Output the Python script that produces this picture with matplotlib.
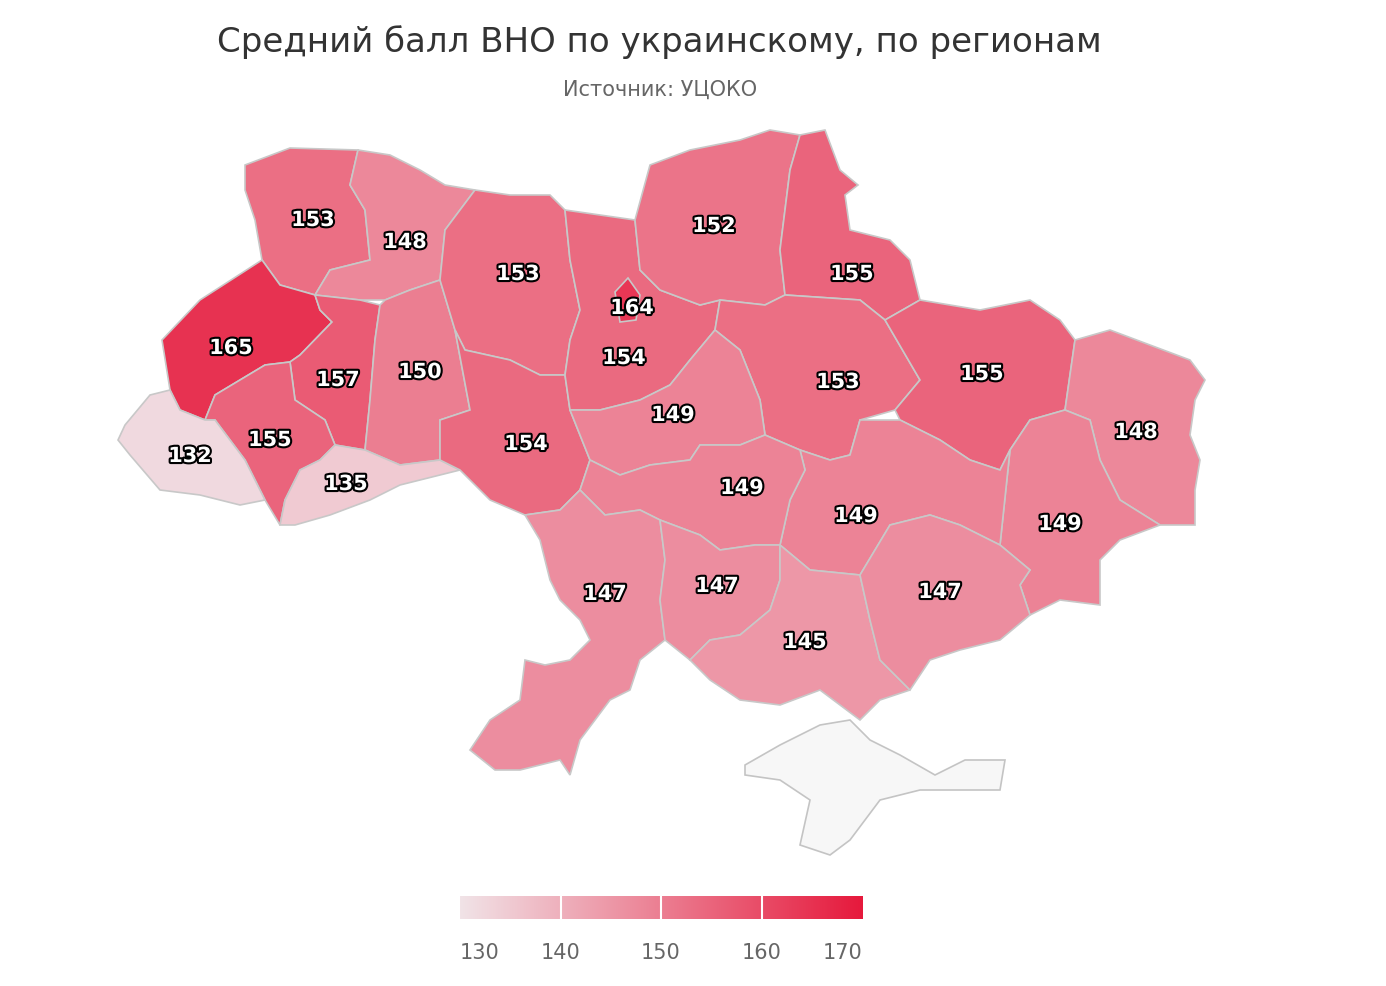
"""Average Ukrainian-language ZNO score by region (choropleth, simplified outlines)."""
import matplotlib.pyplot as plt
import matplotlib.patheffects as pe
from matplotlib.colors import LinearSegmentedColormap, Normalize
from matplotlib.patches import Polygon
import numpy as np

plt.rcParams['font.family'] = ['DejaVu Sans']

# Region names, scores and label positions (image pixel coords)
REGIONS = [
    "Волынская", "Ровенская", "Львовская", "Тернопольская", "Хмельницкая",
    "Ивано-Франковская", "Закарпатская", "Черновицкая", "Житомирская",
    "Винницкая", "Киевская", "Киев", "Черниговская", "Сумская", "Полтавская",
    "Харьковская", "Луганская", "Донецкая", "Днепропетровская", "Черкасская",
    "Кировоградская", "Одесская", "Николаевская", "Херсонская", "Запорожская",
]
SCORES = [153, 148, 165, 157, 150, 155, 132, 135, 153, 154, 154, 164, 152,
          155, 153, 155, 148, 149, 149, 149, 149, 147, 147, 145, 147]
LABEL_X = [313, 405, 231, 338, 420, 270, 190, 346, 518, 526, 624, 632, 714,
           852, 838, 982, 1136, 1060, 856, 673, 742, 605, 717, 805, 940]
LABEL_Y = [220, 242, 348, 380, 372, 440, 456, 484, 274, 444, 358, 308, 226,
           274, 382, 374, 432, 524, 516, 415, 488, 594, 586, 642, 592]

# Simplified outlines (image pixel coords)
OUTLINES = [
    [(245,165),(290,148),(358,150),(350,185),(365,210),(370,260),(330,270),(315,295),(280,285),(262,260),(255,220),(245,190)],
    [(358,150),(390,155),(420,170),(445,185),(475,190),(445,230),(440,280),(410,290),(385,300),(360,300),(315,295),(330,270),(370,260),(365,210),(350,185)],
    [(262,260),(280,285),(315,295),(320,310),(332,322),(300,355),(290,362),(265,365),(240,380),(215,395),(205,420),(180,410),(170,390),(162,340),(200,300)],
    [(315,295),(360,300),(380,305),(375,340),(370,400),(365,450),(335,445),(325,420),(295,400),(290,362),(300,355),(332,322),(320,310)],
    [(385,300),(410,290),(440,280),(455,330),(470,410),(440,420),(440,460),(400,465),(365,450),(370,400),(375,340),(380,305)],
    [(290,362),(295,400),(325,420),(335,445),(320,460),(300,470),(285,500),(280,525),(265,500),(245,460),(215,420),(205,420),(215,395),(240,380),(265,365)],
    [(205,420),(215,420),(245,460),(265,500),(240,505),(200,495),(160,490),(130,455),(118,440),(125,425),(150,395),(170,390),(180,410)],
    [(285,500),(300,470),(320,460),(335,445),(365,450),(400,465),(440,460),(460,470),(400,485),(370,500),(330,515),(295,525),(280,525)],
    [(475,190),(510,195),(550,195),(565,210),(570,260),(580,310),(570,340),(565,375),(540,375),(510,360),(465,350),(455,330),(440,280),(445,230)],
    [(465,350),(510,360),(540,375),(565,375),(570,410),(590,460),(580,490),(560,510),(525,515),(490,500),(460,470),(440,460),(440,420),(470,410),(455,330)],
    [(565,210),(600,215),(635,220),(640,270),(660,290),(700,305),(720,300),(715,330),(690,360),(670,385),(640,400),(600,410),(570,410),(565,375),(570,340),(580,310),(570,260)],
    [(615,292),(628,278),(640,295),(636,320),(620,322)],
    [(635,220),(650,165),(690,150),(740,140),(770,130),(800,135),(790,170),(785,210),(780,250),(785,295),(765,305),(720,300),(700,305),(660,290),(640,270)],
    [(800,135),(825,130),(840,170),(858,185),(845,195),(850,230),(890,240),(910,260),(920,300),(885,320),(860,300),(785,295),(780,250),(785,210),(790,170)],
    [(720,300),(765,305),(785,295),(860,300),(885,320),(920,380),(895,410),(860,420),(850,455),(830,460),(800,450),(765,435),(760,400),(740,350),(715,330)],
    [(885,320),(920,300),(980,310),(1030,300),(1060,320),(1075,340),(1065,410),(1030,420),(1010,450),(1000,470),(970,460),(940,440),(900,420),(895,410),(920,380)],
    [(1075,340),(1110,330),(1150,345),(1190,360),(1205,380),(1195,400),(1190,435),(1200,460),(1195,490),(1195,525),(1160,525),(1120,500),(1100,460),(1090,420),(1065,410)],
    [(1065,410),(1090,420),(1100,460),(1120,500),(1160,525),(1120,540),(1100,560),(1100,605),(1060,600),(1030,615),(1020,585),(1030,570),(1000,545),(1010,450),(1030,420)],
    [(800,450),(830,460),(850,455),(860,420),(900,420),(940,440),(970,460),(1000,470),(1010,450),(1000,545),(960,525),(930,515),(890,525),(860,575),(810,570),(780,545),(790,500),(805,470)],
    [(600,410),(640,400),(670,385),(690,360),(715,330),(740,350),(760,400),(765,435),(740,445),(700,445),(690,460),(650,465),(620,475),(590,460),(570,410)],
    [(590,460),(620,475),(650,465),(690,460),(700,445),(740,445),(765,435),(800,450),(805,470),(790,500),(780,545),(755,545),(720,550),(700,535),(660,520),(640,510),(605,515),(580,490)],
    [(560,510),(580,490),(605,515),(640,510),(660,520),(665,560),(660,600),(665,640),(640,660),(630,690),(610,700),(580,740),(570,775),(560,760),(520,770),(495,770),(470,750),(490,720),(520,700),(525,660),(545,665),(570,660),(590,640),(580,620),(560,600),(550,580),(540,540),(525,515)],
    [(660,520),(700,535),(720,550),(755,545),(780,545),(780,580),(770,610),(740,635),(710,640),(690,660),(665,640),(660,600),(665,560)],
    [(780,545),(810,570),(860,575),(870,620),(880,660),(910,690),(880,700),(860,720),(820,690),(780,705),(740,700),(710,680),(690,660),(710,640),(740,635),(770,610),(780,580)],
    [(860,575),(890,525),(930,515),(960,525),(1000,545),(1030,570),(1020,585),(1030,615),(1000,640),(960,650),(930,660),(910,690),(880,660),(870,620)],
]
CRIMEA = [(745,765),(780,745),(820,725),(850,720),(870,740),(900,755),(935,775),(965,760),
          (1005,760),(1000,790),(960,790),(920,790),(880,800),(850,840),(830,855),(800,845),
          (810,800),(780,780),(745,775)]

CB_TICKS = [130, 140, 150, 160, 170]

cmap = LinearSegmentedColormap.from_list("zno", ["#f1e3e7", "#e6193c"])
norm = Normalize(vmin=130, vmax=170)

fig = plt.figure(figsize=(13.86, 9.86), dpi=100)
ax = fig.add_axes([0, 0, 1, 1])
ax.set_xlim(0, 1386)
ax.set_ylim(986, 0)
ax.axis("off")

ax.add_patch(Polygon(CRIMEA, closed=True, facecolor="#f7f7f7", edgecolor="#c4c4c4", lw=1.2))
for pts, val in zip(OUTLINES, SCORES):
    ax.add_patch(Polygon(pts, closed=True, facecolor=cmap(norm(val)),
                         edgecolor="#c8c8c8", lw=1.2))

outline = [pe.withStroke(linewidth=3, foreground="black")]
for x, y, val in zip(LABEL_X, LABEL_Y, SCORES):
    ax.text(x, y, str(val), ha="center", va="center", fontsize=15, fontweight="bold",
            color="white", path_effects=outline)

fig.text(0.476, 0.957, "Средний балл ВНО по украинскому, по регионам",
         ha="center", va="center", fontsize=24.5, color="#333333")
fig.text(0.476, 0.909, "Источник: УЦОКО", ha="center", va="center",
         fontsize=15, color="#666666")

# colour axis
cax = fig.add_axes([460 / 1386, 1 - 919 / 986, 402 / 1386, 23 / 986])
grad = np.linspace(130, 170, 256).reshape(1, -1)
cax.imshow(grad, aspect="auto", cmap=cmap, norm=norm, extent=(130, 170, 0, 1))
for t in CB_TICKS[1:-1]:
    cax.axvline(t, color="white", lw=1.5)
cax.set_xlim(130, 170)
cax.set_yticks([])
cax.set_xticks(CB_TICKS)
cax.tick_params(axis="x", length=0, pad=17, labelsize=15, labelcolor="#666666")
labels = cax.get_xticklabels()
labels[0].set_horizontalalignment("left")
labels[-1].set_horizontalalignment("right")
for s in cax.spines.values():
    s.set_visible(False)

fig.savefig("out.png", dpi=100, facecolor="white")
